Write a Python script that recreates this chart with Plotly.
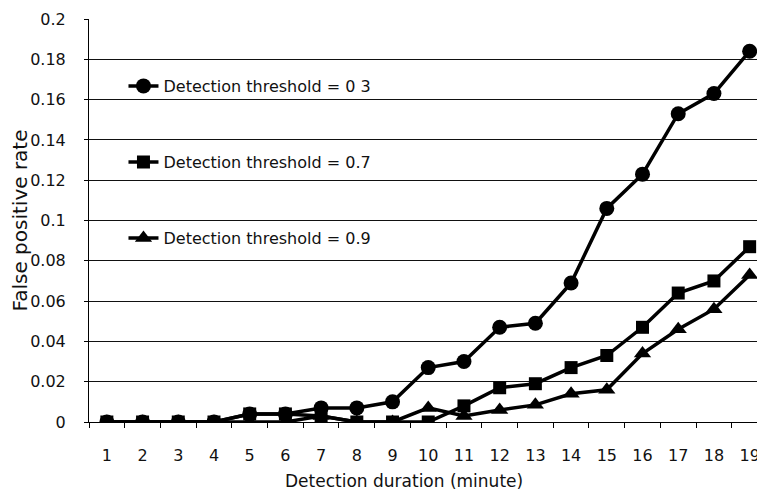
import plotly.graph_objects as go

durations = [str(i) for i in range(1, 20)]
fpr_03 = [0, 0, 0, 0, 0.004, 0.004, 0.007, 0.007, 0.010, 0.027, 0.030, 0.047, 0.049, 0.069,
          0.106, 0.123, 0.153, 0.163, 0.184]
fpr_07 = [0, 0, 0, 0, 0.004, 0.004, 0.003, 0, 0, 0, 0.008, 0.017, 0.019, 0.027,
          0.033, 0.047, 0.064, 0.070, 0.087]
fpr_09 = [0, 0, 0, 0, 0, 0, 0.003, 0, 0, 0.007, 0.003, 0.006, 0.0085, 0.014,
          0.016, 0.034, 0.046, 0.056, 0.073]
y_ticks = [0, 0.02, 0.04, 0.06, 0.08, 0.1, 0.12, 0.14, 0.16, 0.18, 0.2]
y_tick_text = ["0", "0.02", "0.04", "0.06", "0.08", "0.1", "0.12", "0.14", "0.16", "0.18", "0.2"]
names = ["Detection threshold = 0 3", "Detection threshold = 0.7", "Detection threshold = 0.9"]

FONT = "DejaVu Sans"
INK = "#111111"
fig = go.Figure()
series = [(fpr_03, "circle", 15, "legend"), (fpr_07, "square", 13, "legend2"),
          (fpr_09, "triangle-up", 15, "legend3")]
for (vals, sym, sz, lg), nm in zip(series, names):
    fig.add_trace(go.Scatter(
        x=durations, y=vals, name=nm, mode="lines+markers", showlegend=True,
        line=dict(color="#000000", width=3.5),
        marker=dict(symbol=sym, size=sz, color="#000000"),
        legend=lg,
    ))

# page body has an 8px margin, so the figure is 8px smaller and margins shifted
leg_x = 0.051
leg_common = dict(xanchor="left", yanchor="middle", bgcolor="rgba(0,0,0,0)",
                  font=dict(family=FONT, size=16, color=INK), borderwidth=0)
fig.update_layout(
    width=757, height=484, showlegend=True,
    margin=dict(l=81, r=0, t=11, b=70),
    plot_bgcolor="white", paper_bgcolor="white",
    font=dict(family=FONT, size=16, color=INK),
    legend=dict(x=leg_x, y=(422 - 86) / 403, **leg_common),
    legend2=dict(x=leg_x, y=(422 - 162) / 403, **leg_common),
    legend3=dict(x=leg_x, y=(422 - 238) / 403, **leg_common),
    xaxis=dict(
        type="category", range=[-0.5, 18.43], automargin=False,
        showgrid=False, showline=True, linecolor="#000000", linewidth=1,
        ticks="outside", tickson="boundaries", ticklen=5, tickcolor="#000000",
        ticklabelstandoff=19, tickfont=dict(family=FONT, size=16, color=INK),
    ),
    yaxis=dict(
        range=[0, 0.2], tickvals=y_ticks, ticktext=y_tick_text, automargin=False,
        showgrid=True, gridcolor="#111111", gridwidth=1,
        showline=True, linecolor="#000000", linewidth=1,
        ticks="outside", ticklen=4, tickcolor="#000000",
        ticklabelstandoff=15, tickfont=dict(family=FONT, size=16, color=INK),
        zeroline=False,
        title=dict(text="False positive rate", font=dict(family=FONT, size=20, color=INK), standoff=2),
    ),
    annotations=[dict(text="Detection duration (minute)", xref="paper", yref="paper",
                      x=(404 - 89) / 676, y=-(481 - 422) / 403, xanchor="center", yanchor="middle",
                      showarrow=False, font=dict(family=FONT, size=17, color=INK))],
)
fig.write_html("out.html")
